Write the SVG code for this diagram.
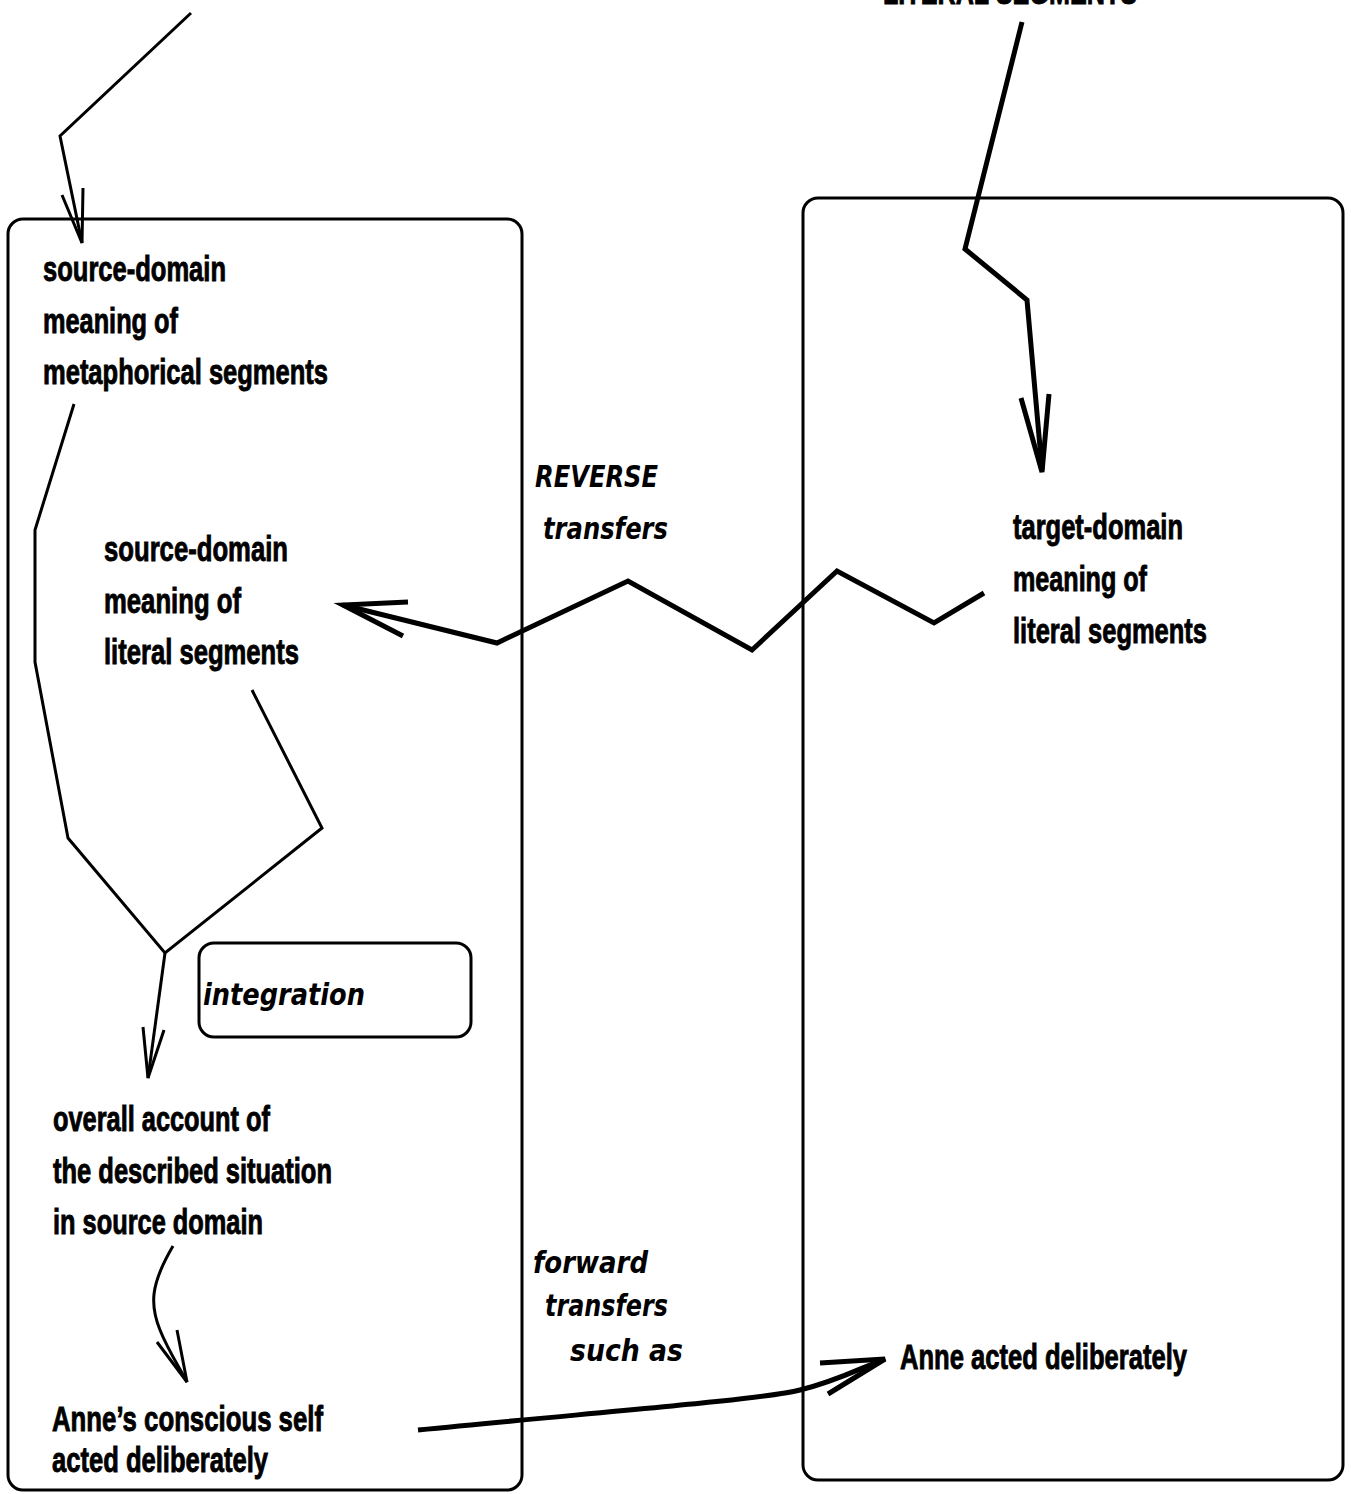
<svg xmlns="http://www.w3.org/2000/svg" width="1351" height="1494" viewBox="0 0 1351 1494">
<style>
.b{font-family:"Liberation Sans",Arial,sans-serif;font-weight:bold;font-size:35px;fill:#000;stroke:#000;stroke-width:0.9}
.i{font-family:"DejaVu Sans",sans-serif;font-weight:bold;font-style:oblique;font-size:30px;fill:#000}
.box{fill:none;stroke:#000;stroke-width:3}
.thin{fill:none;stroke:#000;stroke-width:3;stroke-linejoin:miter}
.thick{fill:none;stroke:#000;stroke-width:5;stroke-linejoin:miter}
</style>
<rect width="1351" height="1494" fill="#fff"/>
<g id="left-domain">
<rect class="box" x="8" y="219" width="514" height="1271" rx="15"/>
</g>
<g id="right-domain">
<rect class="box" x="803" y="198" width="540" height="1282" rx="15"/>
</g>
<g id="top-right-label">
<text class="b" x="883" y="4" textLength="254" lengthAdjust="spacingAndGlyphs">LITERAL SEGMENTS</text>
</g>
<g id="node-source-metaphorical">
<text class="b" x="43" y="281" textLength="183" lengthAdjust="spacingAndGlyphs">source-domain</text>
<text class="b" x="43" y="333" textLength="135" lengthAdjust="spacingAndGlyphs">meaning of</text>
<text class="b" x="43" y="384" textLength="285" lengthAdjust="spacingAndGlyphs">metaphorical segments</text>
</g>
<g id="node-source-literal">
<text class="b" x="104" y="561" textLength="184" lengthAdjust="spacingAndGlyphs">source-domain</text>
<text class="b" x="104" y="613" textLength="137" lengthAdjust="spacingAndGlyphs">meaning of</text>
<text class="b" x="104" y="664" textLength="195" lengthAdjust="spacingAndGlyphs">literal segments</text>
</g>
<g id="node-target-literal">
<text class="b" x="1013" y="539" textLength="170" lengthAdjust="spacingAndGlyphs">target-domain</text>
<text class="b" x="1013" y="591" textLength="134" lengthAdjust="spacingAndGlyphs">meaning of</text>
<text class="b" x="1013" y="643" textLength="194" lengthAdjust="spacingAndGlyphs">literal segments</text>
</g>
<g id="node-reverse-label">
<text class="i" x="535" y="487" textLength="123" lengthAdjust="spacingAndGlyphs">REVERSE</text>
<text class="i" x="543" y="539" textLength="125" lengthAdjust="spacingAndGlyphs">transfers</text>
</g>
<g id="node-integration">
<rect class="box" x="199" y="943" width="272" height="94" rx="15"/>
<text class="i" x="203" y="1005" textLength="162" lengthAdjust="spacingAndGlyphs">integration</text>
</g>
<g id="node-overall">
<text class="b" x="53" y="1131" textLength="217" lengthAdjust="spacingAndGlyphs">overall account of</text>
<text class="b" x="53" y="1183" textLength="279" lengthAdjust="spacingAndGlyphs">the described situation</text>
<text class="b" x="53" y="1234" textLength="210" lengthAdjust="spacingAndGlyphs">in source domain</text>
</g>
<g id="node-forward-label">
<text class="i" x="533" y="1273" textLength="115" lengthAdjust="spacingAndGlyphs">forward</text>
<text class="i" x="545" y="1316" textLength="123" lengthAdjust="spacingAndGlyphs">transfers</text>
<text class="i" x="570" y="1361" textLength="113" lengthAdjust="spacingAndGlyphs">such as</text>
</g>
<g id="node-anne-self">
<text class="b" x="52" y="1431" textLength="271" lengthAdjust="spacingAndGlyphs">Anne’s conscious self</text>
<text class="b" x="52" y="1472" textLength="216" lengthAdjust="spacingAndGlyphs">acted deliberately</text>
</g>
<g id="node-anne-target">
<text class="b" x="900" y="1369" textLength="287" lengthAdjust="spacingAndGlyphs">Anne acted deliberately</text>
</g>
<g id="connectors">
<path class="thin" d="M191,13 L60,136 L82,243"/>
<path class="thin" d="M62,195 L82,243 L83,188"/>
<path class="thick" d="M1022,22 L965,249 L1027,300 L1042,470"/>
<path class="thick" d="M1021,398 L1042,472 L1049,394"/>
<path class="thick" d="M984,593 L934,623 L837,571 L752,650 L628,581 L497,643 L343,605"/>
<path class="thick" d="M408,602 L343,605 L403,636"/>
<path class="thin" d="M74,404 L35,530 L35,662 L68,838 L165,953 L322,828 L252,690"/>
<path class="thin" d="M165,953 L148,1078"/>
<path class="thin" d="M143,1027 L148,1078 L164,1030"/>
<path class="thin" d="M173,1246 C150,1285 150,1305 160,1330 C168,1350 178,1365 187,1382"/>
<path class="thin" d="M157,1342 L187,1382 L177,1330"/>
<path class="thick" d="M418,1430 C600,1412 760,1400 800,1390 C840,1380 860,1368 885,1359"/>
<path class="thick" d="M820,1363 L885,1359 L828,1394"/>
</g>
</svg>
